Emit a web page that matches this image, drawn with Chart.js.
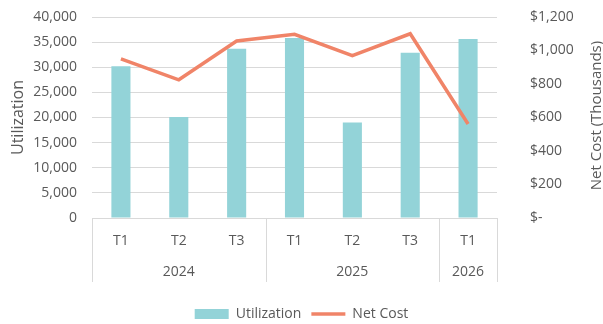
<!DOCTYPE html>
<html>
<head>
<meta charset="utf-8">
<script src="https://cdn.jsdelivr.net/npm/chart.js@4"></script>
<style>
  html, body { margin: 0; padding: 0; background: #fff; }
  #wrap { width: 603px; height: 324px; }
</style>
</head>
<body>
<div id="wrap"><canvas id="chart" width="603" height="324"></canvas></div>
<script>
const periods = ['T1', 'T2', 'T3', 'T1', 'T2', 'T3', 'T1'];
const years = ['2024', '2025', '2026'];
const yearSpans = [3, 3, 1];
const utilization = [30200, 20100, 33700, 35800, 19000, 32900, 35600];
const netCost = [950, 825, 1057, 1097, 969, 1100, 561];

const textColor = '#595959';
const gridColor = '#d9d9d9';
const fontFamily = '"Open Sans", "Noto Sans", sans-serif';

// draws the grouped year row, the box round the category axis and the right axis title
const groupAxis = {
  id: 'groupAxis',
  afterDraw(chart) {
    const ctx = chart.ctx;
    const area = chart.chartArea;
    const step = (area.right - area.left) / periods.length;
    const bottom = area.bottom + 64;
    ctx.save();
    ctx.strokeStyle = gridColor;
    ctx.lineWidth = 1;
    ctx.beginPath();
    ctx.moveTo(area.left, area.bottom + 0.5);
    ctx.lineTo(area.right, area.bottom + 0.5);
    let idx = 0;
    const edges = [0];
    yearSpans.forEach(s => { idx += s; edges.push(idx); });
    edges.forEach(e => {
      const px = Math.round(area.left + e * step) + 0.5;
      ctx.moveTo(px, area.bottom);
      ctx.lineTo(px, bottom);
    });
    ctx.stroke();

    ctx.fillStyle = textColor;
    ctx.font = '14px ' + fontFamily;
    ctx.textAlign = 'center';
    ctx.textBaseline = 'middle';
    years.forEach((y, i) => {
      const cx = area.left + (edges[i] + edges[i + 1]) / 2 * step;
      ctx.fillText(y, cx, area.bottom + 54);
    });

    ctx.font = '15px ' + fontFamily;
    ctx.translate(597, (area.top + area.bottom) / 2 - 2);
    ctx.rotate(-Math.PI / 2);
    ctx.fillText('Net Cost (Thousands)', 0, 0);
    ctx.restore();
  }
};

new Chart(document.getElementById('chart').getContext('2d'), {
  type: 'bar',
  data: {
    labels: periods,
    datasets: [
      {
        type: 'line',
        label: 'Net Cost',
        data: netCost,
        yAxisID: 'y1',
        borderColor: '#f08468',
        backgroundColor: '#f08468',
        borderWidth: 3.5,
        pointRadius: 0,
        pointStyle: 'line',
        tension: 0,
        order: 0
      },
      {
        type: 'bar',
        label: 'Utilization',
        data: utilization,
        yAxisID: 'y',
        backgroundColor: '#93d3d8',
        barPercentage: 0.33,
        categoryPercentage: 1,
        pointStyle: 'rect',
        order: 1
      }
    ]
  },
  options: {
    responsive: false,
    animation: false,
    layout: { padding: { top: 17, left: 0, right: 0, bottom: 0 } },
    plugins: {
      tooltip: { enabled: false },
      legend: {
        position: 'bottom',
        reverse: true,
        maxHeight: 27,
        labels: {
          usePointStyle: true,
          pointStyleWidth: 34,
          boxHeight: 10,
          padding: 10,
          color: textColor,
          font: { family: fontFamily, size: 14 }
        }
      }
    },
    scales: {
      x: {
        grid: { display: false },
        border: { display: false },
        ticks: { color: textColor, font: { family: fontFamily, size: 14 }, padding: 7, maxRotation: 0 },
        afterFit(s) { s.height = 79; }
      },
      y: {
        position: 'left',
        min: 0,
        max: 40000,
        grid: { color: gridColor, drawTicks: false },
        border: { display: false },
        ticks: {
          stepSize: 5000,
          padding: 15,
          color: textColor,
          font: { family: fontFamily, size: 14 },
          callback: v => v.toLocaleString('en-US')
        },
        title: {
          display: true,
          text: 'Utilization',
          color: textColor,
          font: { family: fontFamily, size: 16 },
          padding: { top: 9, bottom: 0 }
        },
        afterFit(s) { s.width = 92; s.paddingTop = 0; s.paddingBottom = 0; }
      },
      y1: {
        position: 'right',
        min: 0,
        max: 1200,
        grid: { drawOnChartArea: false, drawTicks: false },
        border: { display: false },
        ticks: {
          stepSize: 200,
          padding: 33,
          color: textColor,
          font: { family: fontFamily, size: 14 },
          callback: v => v === 0 ? '$-' : '$' + v.toLocaleString('en-US')
        },
        afterFit(s) { s.width = 106; s.paddingTop = 0; s.paddingBottom = 0; }
      }
    }
  },
  plugins: [groupAxis]
});
</script>
</body>
</html>
